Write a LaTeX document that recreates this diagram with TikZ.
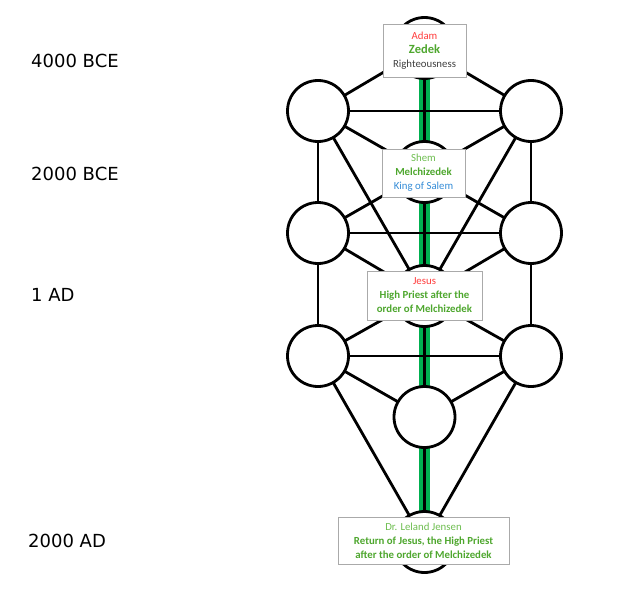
\documentclass[tikz,border=0pt]{standalone}
\usepackage{fontspec}
\setmainfont{Carlito}
\newfontfamily\lblfont{DejaVu Sans}
\usetikzlibrary{backgrounds}
\definecolor{pillargreen}{RGB}{0,176,80}
\definecolor{boxgray}{RGB}{170,170,170}
\definecolor{adamred}{RGB}{255,60,60}
\definecolor{zgreen}{RGB}{78,167,46}
\definecolor{lgreen}{RGB}{110,190,80}
\definecolor{salemblue}{RGB}{52,140,215}
\definecolor{darktext}{RGB}{64,64,64}
\begin{document}
\begin{tikzpicture}[x=1pt,y=-1pt,
  sephira/.style={circle,draw=black,line width=2.8pt,fill=white,minimum size=61pt,inner sep=0pt},
  link/.style={line width=2.8pt,black},
  pillarband/.style={line width=11pt,pillargreen},
  infobox/.style={draw=boxgray,line width=0.9pt,fill=white,align=center,inner sep=0pt,
    font=\fontsize{10.8}{14}\selectfont},
  era/.style={anchor=base west,inner sep=0pt,font=\lblfont\fontsize{18}{20}\selectfont}
]
\useasboundingbox (0,0) rectangle (624,594);

% circles
\node[sephira] (keter)   at (424.5,48)  {};
\node[sephira] (binah)   at (318,111)   {};
\node[sephira] (chokmah) at (531,111)   {};
\node[sephira] (daat)    at (424.5,172) {};
\node[sephira] (gevurah) at (318,233)   {};
\node[sephira] (chesed)  at (531,233)   {};
\node[sephira] (tiferet) at (424.5,296) {};
\node[sephira] (hod)     at (318,356)   {};
\node[sephira] (netzach) at (531,356)   {};
\node[sephira] (yesod)   at (424.5,417) {};
\node[sephira] (malkuth) at (424.5,542) {};

\begin{scope}[on background layer]
  \draw[pillarband] (keter.center) -- (malkuth.center);
  \draw[link] (keter.center) -- (malkuth.center);
  \draw[link] (keter.center) -- (binah.center);
  \draw[link] (keter.center) -- (chokmah.center);
  \draw[link] (binah.center) -- (chokmah.center);
  \draw[link] (binah.center) -- (gevurah.center);
  \draw[link] (chokmah.center) -- (chesed.center);
  \draw[link] (binah.center) -- (tiferet.center);
  \draw[link] (chokmah.center) -- (tiferet.center);
  \draw[link] (binah.center) -- (daat.center);
  \draw[link] (chokmah.center) -- (daat.center);
  \draw[link] (daat.center) -- (gevurah.center);
  \draw[link] (daat.center) -- (chesed.center);
  \draw[link] (gevurah.center) -- (chesed.center);
  \draw[link] (gevurah.center) -- (tiferet.center);
  \draw[link] (chesed.center) -- (tiferet.center);
  \draw[link] (gevurah.center) -- (hod.center);
  \draw[link] (chesed.center) -- (netzach.center);
  \draw[link] (hod.center) -- (tiferet.center);
  \draw[link] (netzach.center) -- (tiferet.center);
  \draw[link] (hod.center) -- (netzach.center);
  \draw[link] (hod.center) -- (yesod.center);
  \draw[link] (netzach.center) -- (yesod.center);
  \draw[link] (hod.center) -- (malkuth.center);
  \draw[link] (netzach.center) -- (malkuth.center);
\end{scope}

% text boxes
\node[infobox,minimum width=83pt,minimum height=53pt] (adambox) at (424.5,50.5)
  {{\color{adamred}Adam}\\{\fontsize{12.5}{14}\selectfont\bfseries\color{zgreen}Zedek}\\{\color{darktext}Righteousness}};
\node[infobox,minimum width=83pt,minimum height=48pt] (shembox) at (423.5,173)
  {{\color{lgreen}Shem}\\{\bfseries\color{zgreen}Melchizedek}\\{\color{salemblue}King of Salem}};
\node[infobox,minimum width=115pt,minimum height=49pt] (jesusbox) at (424.5,295.5)
  {{\color{adamred}Jesus}\\{\bfseries\color{zgreen}High Priest after the}\\{\bfseries\color{zgreen}order of Melchizedek}};
\node[infobox,minimum width=171pt,minimum height=47pt] (jensenbox) at (423.5,540.5)
  {{\color{lgreen}Dr. Leland Jensen}\\{\bfseries\color{zgreen}Return of Jesus, the High Priest}\\{\bfseries\color{zgreen}after the order of Melchizedek}};

% era labels
\node[era] (e4000) at (31,67.3) {4000 BCE};
\node[era] (e2000) at (31,180) {2000 BCE};
\node[era] (e1ad)  at (31,301) {1 AD};
\node[era] (e2000ad) at (28,547) {2000 AD};
\end{tikzpicture}
\end{document}
